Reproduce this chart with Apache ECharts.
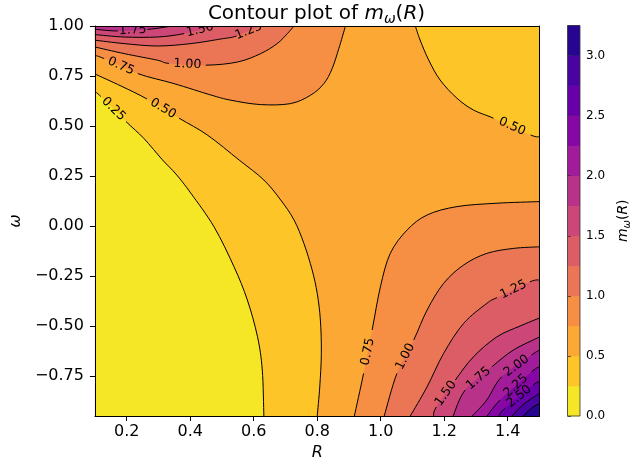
<!DOCTYPE html>
<html>
<head>
<meta charset="UTF-8">
<script src="https://cdn.jsdelivr.net/npm/echarts@6/dist/echarts.min.js"></script>
<style>
html, body { margin: 0; padding: 0; background: #fff; }
#main { width: 633px; height: 468px; }
</style>
</head>
<body>
<div id="main"></div>
<script>
var FONT = 'DejaVu Sans';

// axis ranges
var R_MIN = 0.1, R_MAX = 1.5, W_MIN = -0.95, W_MAX = 1.0;

var levels = [0, 0.25, 0.5, 0.75, 1.0, 1.25, 1.5, 1.75, 2.0, 2.25, 2.5, 2.75, 3.0, 3.25];
var bandColors = ['#f5e626', '#fdc527', '#fba834', '#f68f44', '#eb7655', '#dc5d66', '#cc4778',
                  '#b83289', '#a11b9b', '#8606a6', '#6700a8', '#4903a0', '#260591'];

var xTicks = [0.2, 0.4, 0.6, 0.8, 1.0, 1.2, 1.4];
var yTicks = [-0.75, -0.5, -0.25, 0, 0.25, 0.5, 0.75, 1.0];
var cbarTicks = [0, 0.5, 1.0, 1.5, 2.0, 2.5, 3.0];

// contour lines, [R, omega]; null marks the label gap
var c025  = [[0.100, 0.672], [0.119, 0.647], null, [0.198, 0.522], [0.254, 0.438], [0.313, 0.330], [0.355, 0.260],
             [0.402, 0.164], [0.475, -0.004], [0.538, -0.204], [0.580, -0.370], [0.612, -0.554], [0.627, -0.720], [0.632, -0.950]];
var c050L = [[0.100, 0.760], [0.182, 0.700], [0.264, 0.635], null, [0.365, 0.539], [0.454, 0.455], [0.554, 0.330],
             [0.632, 0.230], [0.685, 0.130], [0.727, 0.030], [0.758, -0.087], [0.784, -0.220], [0.800, -0.337],
             [0.810, -0.470], [0.813, -0.637], [0.808, -0.804], [0.800, -0.950]];
var c050R = [[1.109, 1.000], [1.124, 0.930], [1.151, 0.830], [1.187, 0.730], [1.240, 0.639], [1.292, 0.580],
             [1.355, 0.539], null, [1.472, 0.455], [1.500, 0.447]];
var c075U = [[0.100, 0.853], [0.129, 0.837], null, [0.235, 0.762], [0.349, 0.712], [0.465, 0.655], [0.528, 0.629],
             [0.622, 0.607], [0.716, 0.612], [0.779, 0.654], [0.821, 0.712], [0.847, 0.787], [0.868, 0.887], [0.889, 1.000]];
var c100U = [[0.100, 0.895], [0.192, 0.862], [0.297, 0.829], [0.333, 0.813], null, [0.449, 0.804], [0.549, 0.820],
             [0.622, 0.862], [0.674, 0.912], [0.706, 0.962], [0.727, 1.000]];
var c125U = [[0.100, 0.929], [0.192, 0.912], [0.297, 0.900], [0.402, 0.912], [0.496, 0.935], [0.546, 0.950], null, [0.622, 1.000]];
var c150U = [[0.100, 0.957], [0.192, 0.945], [0.297, 0.945], [0.381, 0.962], null, [0.481, 1.000]];
var c175U = [[0.100, 0.984], [0.172, 0.975], null, [0.266, 0.983], [0.345, 1.000]];
var c075L = [[0.917, -0.950], [0.946, -0.737], null, [0.973, -0.520], [0.999, -0.304], [1.030, -0.137],
             [1.083, -0.020], [1.146, 0.055], [1.240, 0.097], [1.366, 0.114], [1.500, 0.122]];
var c100L = [[1.011, -0.950], [1.051, -0.737], null, [1.104, -0.570], [1.146, -0.420], [1.198, -0.287], [1.261, -0.195],
             [1.334, -0.137], [1.418, -0.112], [1.500, -0.104]];
var c125L = [[1.093, -0.950], [1.146, -0.804], [1.198, -0.637], [1.261, -0.487], [1.334, -0.387], [1.366, -0.358], null,
             [1.470, -0.279], [1.500, -0.270]];
var c150L = [[1.166, -0.950], [1.175, -0.905], null, [1.235, -0.770], [1.292, -0.654], [1.366, -0.554], [1.439, -0.500], [1.500, -0.460]];
var c175L = [[1.228, -0.950], [1.266, -0.820], null, [1.350, -0.704], [1.418, -0.620], [1.500, -0.555]];
var c200L = [[1.288, -0.950], [1.334, -0.870], [1.381, -0.754], null, [1.475, -0.645], [1.500, -0.620]];
var c225L = [[1.335, -0.950], [1.376, -0.870], null, [1.475, -0.729], [1.500, -0.704]];
var c250L = [[1.371, -0.950], [1.392, -0.910], null, [1.480, -0.795], [1.500, -0.779]];
var c275L = [[1.413, -0.950], [1.451, -0.890], [1.500, -0.837]];
var c300L = [[1.449, -0.950], [1.476, -0.910], [1.500, -0.887]];

// which corner each contour closes on (the filled side), in drawing order
var corners = { ll: [R_MIN, W_MIN], ul: [R_MIN, W_MAX], ur: [R_MAX, W_MAX], lr: [R_MAX, W_MIN] };
var contours = [
  { level: 0.50, corner: 'll', pts: c050L },
  { level: 0.25, corner: 'll', pts: c025 },
  { level: 0.50, corner: 'ur', pts: c050R },
  { level: 0.75, corner: 'ul', pts: c075U },
  { level: 1.00, corner: 'ul', pts: c100U },
  { level: 1.25, corner: 'ul', pts: c125U },
  { level: 1.50, corner: 'ul', pts: c150U },
  { level: 1.75, corner: 'ul', pts: c175U },
  { level: 0.75, corner: 'lr', pts: c075L },
  { level: 1.00, corner: 'lr', pts: c100L },
  { level: 1.25, corner: 'lr', pts: c125L },
  { level: 1.50, corner: 'lr', pts: c150L },
  { level: 1.75, corner: 'lr', pts: c175L },
  { level: 2.00, corner: 'lr', pts: c200L },
  { level: 2.25, corner: 'lr', pts: c225L },
  { level: 2.50, corner: 'lr', pts: c250L },
  { level: 2.75, corner: 'lr', pts: c275L },
  { level: 3.00, corner: 'lr', pts: c300L }
];

function bandOf(c) {
  var i = levels.indexOf(c.level);
  // lower-left and upper-right regions lie below their level
  return (c.corner === 'll' || c.corner === 'ur') ? i - 1 : i;
}

function f(v) { return v.toFixed(2); }

// smooth curve through the pixel points (Catmull-Rom as cubic beziers)
function curveSegs(P) {
  var segs = [];
  var n = P.length;
  for (var i = 0; i < n - 1; i++) {
    var p0 = P[Math.max(i - 1, 0)], p1 = P[i], p2 = P[i + 1], p3 = P[Math.min(i + 2, n - 1)];
    var c1 = [p1[0] + (p2[0] - p0[0]) / 6, p1[1] + (p2[1] - p0[1]) / 6];
    var c2 = [p2[0] - (p3[0] - p1[0]) / 6, p2[1] - (p3[1] - p1[1]) / 6];
    segs.push({ end: p2, d: ' C' + f(c1[0]) + ' ' + f(c1[1]) + ' ' + f(c2[0]) + ' ' + f(c2[1]) + ' ' + f(p2[0]) + ' ' + f(p2[1]) });
  }
  return segs;
}

function renderContours(params, api) {
  var children = [];
  var tl = api.coord([R_MIN, W_MAX]), br = api.coord([R_MAX, W_MIN]);
  // saddle region, 0.50 - 0.75
  children.push({ type: 'rect', shape: { x: tl[0], y: tl[1], width: br[0] - tl[0], height: br[1] - tl[1] },
                  style: { fill: bandColors[2] } });

  var built = contours.map(function (c) {
    var k = c.pts.indexOf(null);
    var P = c.pts.filter(Boolean).map(function (p) { return api.coord(p); });
    return { c: c, P: P, segs: curveSegs(P), gap: k < 0 ? -1 : k - 1 };
  });

  built.forEach(function (b) {
    var cp = api.coord(corners[b.c.corner]);
    var d = 'M' + f(b.P[0][0]) + ' ' + f(b.P[0][1]);
    b.segs.forEach(function (s) { d += s.d; });
    d += ' L' + f(cp[0]) + ' ' + f(cp[1]) + ' Z';
    children.push({ type: 'path', shape: { pathData: d }, style: { fill: bandColors[bandOf(b.c)], stroke: null } });
  });

  built.forEach(function (b) {
    var d = 'M' + f(b.P[0][0]) + ' ' + f(b.P[0][1]);
    b.segs.forEach(function (s, i) {
      d += (i === b.gap) ? ' M' + f(s.end[0]) + ' ' + f(s.end[1]) : s.d;
    });
    children.push({ type: 'path', shape: { pathData: d }, style: { stroke: '#000', lineWidth: 1, fill: null } });
  });

  built.forEach(function (b) {
    if (b.gap < 0) return;
    var a = b.P[b.gap], e = b.P[b.gap + 1];
    var ang = Math.atan2(e[1] - a[1], e[0] - a[0]);
    if (ang > Math.PI / 2) ang -= Math.PI;
    if (ang < -Math.PI / 2) ang += Math.PI;
    children.push({
      type: 'text', x: (a[0] + e[0]) / 2, y: (a[1] + e[1]) / 2, rotation: -ang,
      style: { text: b.c.level.toFixed(2), fontSize: 12.5, fontFamily: FONT, fill: '#000', align: 'center', verticalAlign: 'middle' }
    });
  });
  return { type: 'group', children: children };
}

function renderColorbar(params, api) {
  var children = [];
  for (var i = 0; i < levels.length - 1; i++) {
    var p0 = api.coord([0, levels[i + 1]]), p1 = api.coord([1, levels[i]]);
    children.push({ type: 'rect', shape: { x: p0[0], y: p0[1] - 0.3, width: p1[0] - p0[0], height: p1[1] - p0[1] + 0.6 },
                    style: { fill: bandColors[i] } });
  }
  var t = api.coord([0, levels[levels.length - 1]]), b = api.coord([1, levels[0]]);
  children.push({ type: 'rect', shape: { x: t[0], y: t[1], width: b[0] - t[0], height: b[1] - t[1] },
                  style: { fill: null, stroke: '#333', lineWidth: 0.8 } });
  return { type: 'group', children: children };
}

var richMath = function (size) {
  return {
    a: { fontSize: size, fontFamily: FONT, fontWeight: 'normal', color: '#000' },
    i: { fontSize: size, fontFamily: FONT, fontWeight: 'normal', fontStyle: 'italic', color: '#000' },
    s: { fontSize: Math.round(size * 0.7), fontFamily: FONT, fontWeight: 'normal', fontStyle: 'italic', color: '#000',
         padding: [Math.round(size * 0.5), 0, 0, 0] }
  };
};

var axisLineStyle = { color: '#000', width: 1 };
function fmtTick(d) {
  return function (v) { return (v < 0 ? '\u2212' : '') + Math.abs(v).toFixed(d); };
}

var option = {
  animation: false,
  title: {
    text: '{a|Contour plot of }{i|m}{s|ω}{a|(}{i|R}{a|)}',
    left: 'center', top: -3,
    textStyle: { fontWeight: 'normal', rich: richMath(20) }
  },
  grid: [
    { left: 94, top: 26, width: 445.5, height: 390 },
    { left: 567.5, top: 25.5, width: 19.5, height: 390.5 }
  ],
  xAxis: [
    { gridIndex: 0, type: 'value', min: R_MIN, max: R_MAX, position: 'bottom', z: 10,
      name: 'R', nameLocation: 'middle', nameGap: 27,
      nameTextStyle: { fontSize: 16, fontFamily: FONT, fontStyle: 'italic', color: '#000' },
      axisLine: { onZero: false, lineStyle: axisLineStyle },
      axisTick: { customValues: xTicks, length: 5, lineStyle: axisLineStyle },
      axisLabel: { customValues: xTicks, formatter: fmtTick(1), fontSize: 16, fontFamily: FONT, color: '#000', margin: 8 },
      splitLine: { show: false } },
    { gridIndex: 0, type: 'value', min: R_MIN, max: R_MAX, position: 'top', z: 10,
      axisLine: { onZero: false, lineStyle: axisLineStyle }, axisTick: { show: false }, axisLabel: { show: false },
      splitLine: { show: false } },
    { gridIndex: 1, type: 'value', min: 0, max: 1, show: false }
  ],
  yAxis: [
    { gridIndex: 0, type: 'value', min: W_MIN, max: W_MAX, position: 'left', z: 10,
      name: 'ω', nameLocation: 'middle', nameGap: 64, nameRotate: 90,
      nameTextStyle: { fontSize: 16, fontFamily: FONT, fontStyle: 'italic', color: '#000' },
      axisLine: { onZero: false, lineStyle: axisLineStyle },
      axisTick: { customValues: yTicks, length: 5, lineStyle: axisLineStyle },
      axisLabel: { customValues: yTicks, formatter: fmtTick(2), fontSize: 16, fontFamily: FONT, color: '#000', margin: 11 },
      splitLine: { show: false } },
    { gridIndex: 0, type: 'value', min: W_MIN, max: W_MAX, position: 'right', z: 10,
      axisLine: { onZero: false, lineStyle: axisLineStyle }, axisTick: { show: false }, axisLabel: { show: false },
      splitLine: { show: false } },
    { gridIndex: 1, type: 'value', min: 0, max: 3.25, position: 'right', z: 10,
      name: '{i|m}{s|ω}{a|(}{i|R}{a|)}', nameLocation: 'middle', nameGap: 35, nameRotate: 90,
      nameTextStyle: { rich: richMath(14) },
      axisLine: { show: false },
      axisTick: { customValues: cbarTicks, length: 3.5, lineStyle: { color: '#333', width: 0.8 } },
      axisLabel: { customValues: cbarTicks, formatter: fmtTick(1), fontSize: 12, fontFamily: FONT, color: '#000', margin: 6 },
      splitLine: { show: false } }
  ],
  series: [
    { type: 'custom', coordinateSystem: 'cartesian2d', xAxisIndex: 0, yAxisIndex: 0, clip: true, silent: true,
      data: [[R_MIN, W_MIN]], renderItem: renderContours },
    { type: 'custom', coordinateSystem: 'cartesian2d', xAxisIndex: 2, yAxisIndex: 2, silent: true,
      data: [[0, 0]], renderItem: renderColorbar }
  ]
};

var chart = echarts.init(document.getElementById('main'));
chart.setOption(option);
</script>
</body>
</html>
